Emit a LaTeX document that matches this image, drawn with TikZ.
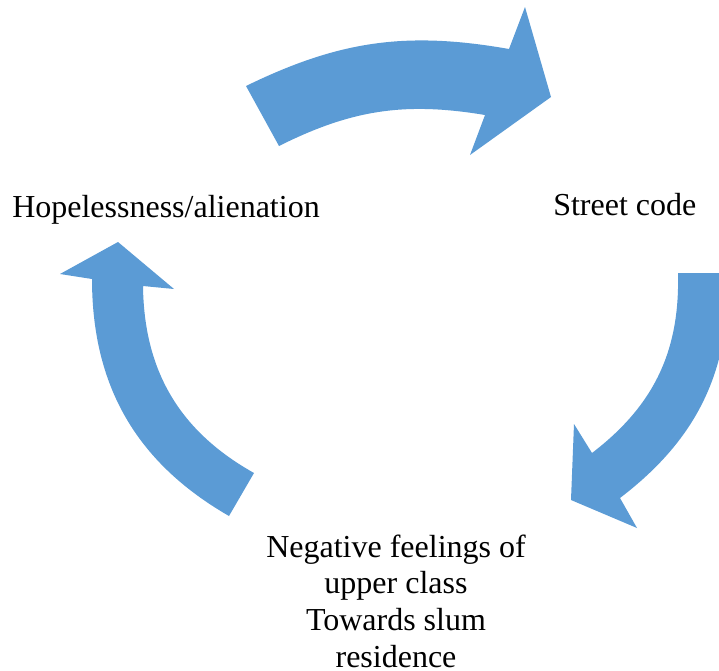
\documentclass[tikz,border=0pt]{standalone}
\usepackage{fontspec}
\setmainfont{Liberation Serif}
\definecolor{arrowblue}{RGB}{91,155,213}

\begin{document}
\begin{tikzpicture}[x=0.75pt, y=-0.75pt,
    cyclearrow/.style={fill=arrowblue, draw=none},
    steptext/.style={inner sep=0pt, font=\fontsize{24}{27.5}\selectfont}]
  \useasboundingbox (0,0) rectangle (719,671);
  \clip (0,0) rectangle (719,671);
  % arrow from hopelessness to street code
  \fill[cyclearrow] (246,86) to[bend left=18] (509,49) -- (525,7) -- (551,97)
    -- (470,155) -- (485,115) to[bend right=18] (279,146) -- cycle;
  % arrow from street code down to negative feelings
  \fill[cyclearrow] (678,273) to[bend left=27] (592,453) -- (574,424) -- (571,500)
    -- (637,528) -- (620,498) to[bend right=27] (728,273) -- cycle;
  % arrow from negative feelings up to hopelessness
  \fill[cyclearrow] (229,516) to[bend left=30] (92,279) -- (60,274) -- (118,242)
    -- (174,289) -- (143,286) to[bend right=30] (254,473) -- cycle;
  \node[steptext, anchor=base west] (hope) at (12,217) {Hopelessness/alienation};
  \node[steptext, anchor=base west] (street) at (553,215) {Street code};
  \node[steptext, anchor=base, align=center] (neg) at (396,667)
    {Negative feelings of\\upper class\\Towards slum\\residence};
\end{tikzpicture}
\end{document}
